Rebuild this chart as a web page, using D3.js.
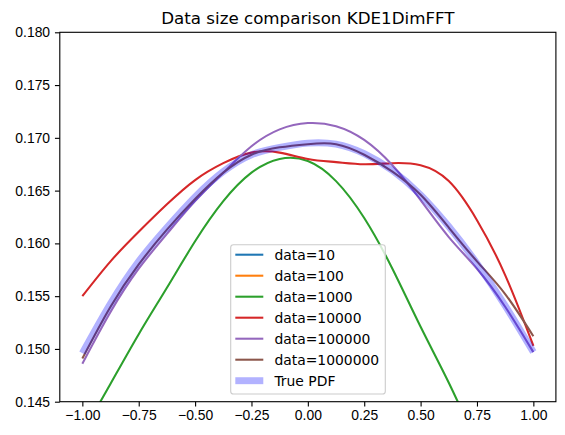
<!DOCTYPE html>
<meta charset="utf-8">
<style>

body {
  margin: 0;
  background: #fff;
  font-family: "DejaVu Sans", sans-serif;
}

.axis path, .axis line {
  fill: none;
  stroke: #000;
}

.axis text {
  font-size: 13.9px;
  fill: #000;
}

</style>
<body>
<script src="https://cdn.jsdelivr.net/npm/d3@7"></script>
<script>

// sample grid on the x axis
const xs = [-1, -0.875, -0.75, -0.625, -0.5, -0.375, -0.25, -0.125, 0,
            0.125, 0.25, 0.375, 0.5, 0.625, 0.75, 0.875, 1];

// estimated densities per sample size (10 and 100 fall outside the view)
const kde10 = [0.214, 0.221, 0.229, 0.236, 0.242, 0.247, 0.250, 0.252, 0.251,
               0.249, 0.245, 0.240, 0.233, 0.226, 0.219, 0.211, 0.204];
const kde100 = [0.196, 0.199, 0.203, 0.207, 0.210, 0.212, 0.213, 0.213, 0.212,
                0.210, 0.207, 0.203, 0.199, 0.195, 0.191, 0.187, 0.183];
const kde1000 = [0.1420, 0.1467, 0.1514, 0.1558, 0.1602, 0.1640, 0.1667, 0.1680, 0.1678,
                 0.1659, 0.1624, 0.1576, 0.1521, 0.1468, 0.1410, 0.1350, 0.1288];
const kde10000 = [0.1550, 0.1583, 0.1611, 0.1637, 0.1660, 0.1676, 0.1686, 0.1686, 0.1680,
                  0.1677, 0.1675, 0.1676, 0.1674, 0.1659, 0.1622, 0.1570, 0.1503];
const kde100000 = [0.1486, 0.1535, 0.1576, 0.1609, 0.1640, 0.1667, 0.1692, 0.1708, 0.1714,
                   0.1711, 0.1698, 0.1674, 0.1641, 0.1606, 0.1576, 0.1540, 0.1497];
const kde1000000 = [0.1491, 0.1540, 0.1580, 0.1613, 0.1642, 0.1667, 0.1684, 0.1691, 0.1694,
                    0.1694, 0.1684, 0.1668, 0.1646, 0.1615, 0.1583, 0.1552, 0.1512];
const truePdf = [0.1496, 0.1543, 0.1583, 0.1615, 0.1644, 0.1668, 0.1684, 0.1691, 0.1695,
                 0.1694, 0.1685, 0.1669, 0.1646, 0.1616, 0.1581, 0.1541, 0.1497];

const seriesNames = ["data=10", "data=100", "data=1000", "data=10000",
                     "data=100000", "data=1000000"];
const seriesValues = [kde10, kde100, kde1000, kde10000, kde100000, kde1000000];
const colors = ["#1f77b4", "#ff7f0e", "#2ca02c", "#d62728", "#9467bd", "#8c564b"];

const xTicks = [-1, -0.75, -0.5, -0.25, 0, 0.25, 0.5, 0.75, 1];
const yTicks = [0.145, 0.15, 0.155, 0.16, 0.165, 0.17, 0.175, 0.18];

const width = 565, height = 435;
const margin = {top: 32.3, right: 9.1, bottom: 33.3, left: 59.8};

const x = d3.scaleLinear()
    .domain([-1.1, 1.1])
    .range([margin.left, width - margin.right]);

const y = d3.scaleLinear()
    .domain([0.145, 0.18])
    .range([height - margin.bottom, margin.top]);

const svg = d3.select("body").append("svg")
    .attr("width", width)
    .attr("height", height);

svg.append("rect")
    .attr("width", width)
    .attr("height", height)
    .attr("fill", "#fff");

svg.append("defs").append("clipPath")
    .attr("id", "clip")
  .append("rect")
    .attr("x", margin.left)
    .attr("y", margin.top)
    .attr("width", width - margin.left - margin.right)
    .attr("height", height - margin.top - margin.bottom);

const line = d3.line()
    .x(d => x(d[0]))
    .y(d => y(d[1]))
    .curve(d3.curveNatural);

const plot = svg.append("g").attr("clip-path", "url(#clip)");

seriesValues.forEach((vals, i) => {
  plot.append("path")
      .datum(xs.map((v, j) => [v, vals[j]]))
      .attr("fill", "none")
      .attr("stroke", colors[i])
      .attr("stroke-width", 2.08)
      .attr("d", line);
});

plot.append("path")
    .datum(xs.map((v, j) => [v, truePdf[j]]))
    .attr("fill", "none")
    .attr("stroke", "blue")
    .attr("stroke-opacity", 0.3)
    .attr("stroke-width", 6.94)
    .attr("d", line);

const fmtX = d => d3.format(".2f")(d).replace("-", "\u2212");

svg.append("g")
    .attr("class", "axis")
    .attr("transform", `translate(0,${height - margin.bottom})`)
    .call(d3.axisBottom(x).tickValues(xTicks).tickFormat(fmtX)
      .tickSize(4.86).tickPadding(4.0))
    .call(g => g.select(".domain").remove())
    .call(g => g.selectAll(".tick line").attr("stroke-width", 1.11));

svg.append("g")
    .attr("class", "axis")
    .attr("transform", `translate(${margin.left},0)`)
    .call(d3.axisLeft(y).tickValues(yTicks).tickFormat(d3.format(".3f"))
      .tickSize(4.86).tickPadding(4.86))
    .call(g => g.select(".domain").remove())
    .call(g => g.selectAll(".tick line").attr("stroke-width", 1.11));

// frame
svg.append("rect")
    .attr("x", margin.left)
    .attr("y", margin.top)
    .attr("width", width - margin.left - margin.right)
    .attr("height", height - margin.top - margin.bottom)
    .attr("fill", "none")
    .attr("stroke", "#000")
    .attr("stroke-width", 1.11);

svg.append("text")
    .attr("x", (margin.left + width - margin.right) / 2)
    .attr("y", 24)
    .attr("text-anchor", "middle")
    .style("font-size", "16.7px")
    .text("Data size comparison KDE1DimFFT");

// legend
const legend = svg.append("g");
legend.append("rect")
    .attr("x", 230.7)
    .attr("y", 244.7)
    .attr("width", 154.6)
    .attr("height", 149.3)
    .attr("rx", 2.8)
    .attr("fill", "#fff")
    .attr("fill-opacity", 0.8)
    .attr("stroke", "#cccccc")
    .attr("stroke-width", 1.1);

const entries = seriesNames.map((n, i) => ({name: n, color: colors[i], w: 2.08, op: 1}))
    .concat([{name: "True PDF", color: "blue", w: 6.94, op: 0.3}]);

const row = legend.selectAll("g.row")
  .data(entries)
  .join("g")
    .attr("transform", (d, i) => `translate(0,${254.7 + i * 21})`);

row.append("line")
    .attr("x1", 235.3).attr("x2", 263.3)
    .attr("stroke", d => d.color)
    .attr("stroke-width", d => d.w)
    .attr("stroke-opacity", d => d.op);

row.append("text")
    .attr("x", 274.4)
    .attr("dy", "0.35em")
    .style("font-size", "13.9px")
    .text(d => d.name);

</script>
